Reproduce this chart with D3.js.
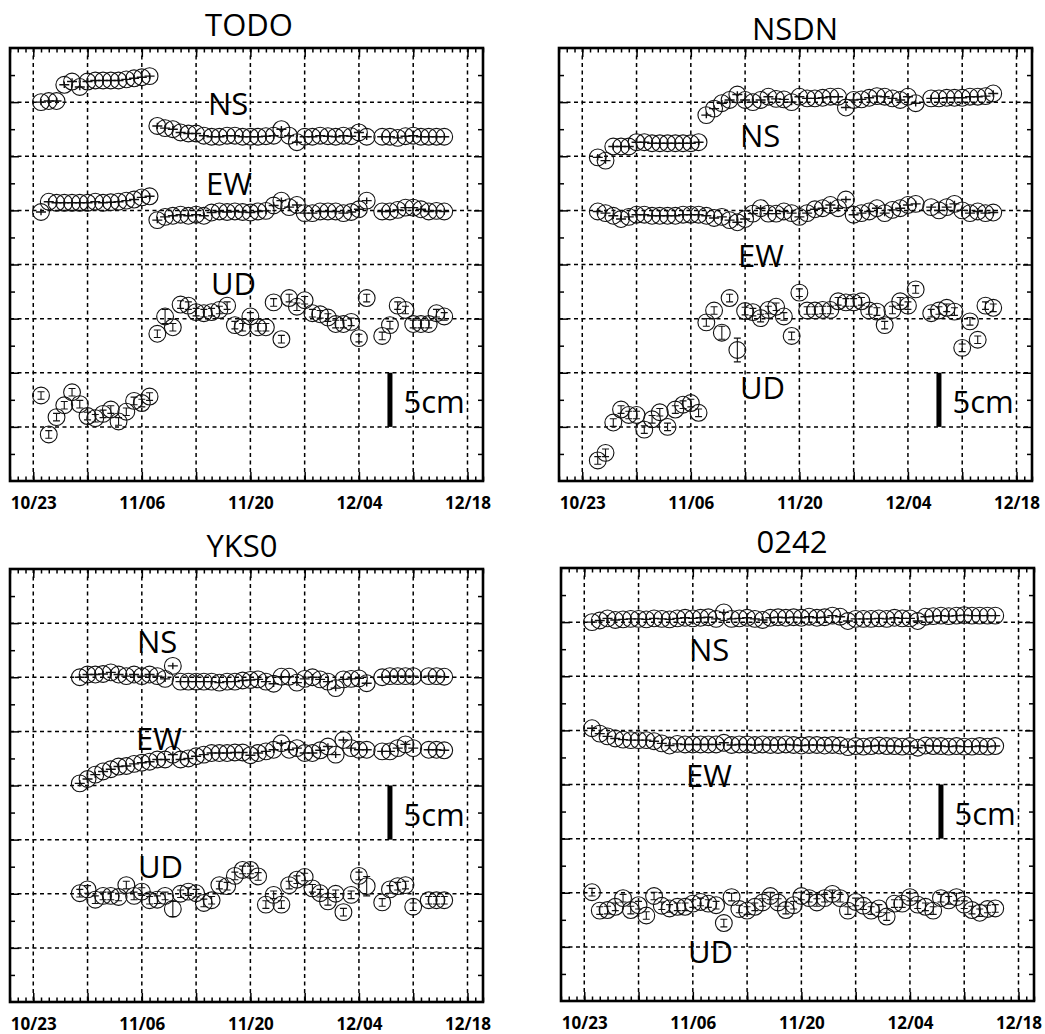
<!DOCTYPE html>
<html><head><meta charset="utf-8">
<script src="https://cdn.jsdelivr.net/npm/d3@7"></script>
<style>body{margin:0;background:#fff}svg{display:block}</style>
</head><body>
<svg id="chart" width="1045" height="1034"></svg>
<script>
// ---------- DATA ----------
const days = ["10/24","10/25","10/26","10/27","10/28","10/29","10/30","10/31",
"11/01","11/02","11/03","11/04","11/05","11/06","11/07","11/08","11/09","11/10",
"11/11","11/12","11/13","11/14","11/15","11/16","11/17","11/18","11/19","11/20",
"11/21","11/22","11/23","11/24","11/25","11/26","11/27","11/28","11/29","11/30",
"12/01","12/02","12/03","12/04","12/05","12/06","12/07","12/08","12/09","12/10",
"12/11","12/12","12/13","12/14","12/15"];
const xTickLabels = ["10/23","11/06","11/20","12/04","12/18"];
const stations = ["TODO","NSDN","YKS0","0242"];
const components = ["NS","EW","UD"];

const todoNS = [35.0,35.1,35.1,36.6,36.9,36.4,36.9,37.0,37.0,37.0,37.0,37.1,37.2,37.3,37.4,
 32.8,32.6,32.5,32.2,32.1,32.1,31.9,31.8,31.8,31.9,31.9,31.8,31.8,31.8,31.85,31.9,32.5,31.9,31.3,31.8,
 31.8,31.9,31.85,31.8,31.9,31.85,32.2,31.8,null,31.8,31.8,31.7,31.85,31.9,31.8,31.8,31.8,31.8];
const todoEW = [24.85,25.8,25.7,25.7,25.7,25.7,25.7,25.8,25.7,25.75,25.8,25.9,26.0,26.2,26.3,
 24.1,24.4,24.5,24.6,24.5,24.6,24.5,24.8,24.9,24.85,24.9,24.85,24.8,24.9,24.95,25.45,25.9,25.3,25.5,24.75,
 24.75,24.9,24.9,24.9,24.75,24.85,25.1,25.9,null,24.9,24.9,25.05,25.25,25.25,25.1,24.9,24.95,24.9];
const todoUD = [7.9,4.3,5.9,7.0,8.2,7.1,6.0,5.8,6.2,6.6,5.5,6.4,7.4,7.2,7.8,
 13.6,15.2,14.2,16.3,16.2,15.6,15.5,15.6,15.8,16.2,14.4,14.2,15.2,14.2,14.2,16.5,13.1,16.9,16.1,16.7,
 15.5,15.4,15.1,14.5,14.5,14.7,13.2,16.9,null,13.4,14.4,16.2,15.8,14.5,14.5,14.5,15.5,15.2];

const nsdnNS = [null,29.9,29.6,30.9,30.9,30.9,31.3,31.3,31.2,31.2,31.2,31.2,31.2,31.2,31.3,
 33.8,34.4,34.9,35.2,35.7,35.2,35.0,35.2,35.5,35.3,35.25,35.0,35.5,35.35,35.35,35.4,35.5,35.5,34.5,35.2,
 35.25,35.4,35.55,35.5,35.35,35.2,35.5,34.9,null,35.35,35.35,35.4,35.4,35.4,35.5,35.5,35.55,35.8];
const nsdnEW = [null,24.9,24.75,24.5,24.2,24.4,24.6,24.6,24.5,24.5,24.5,24.5,24.6,24.6,24.6,
 24.5,24.3,24.4,24.1,23.9,24.2,24.7,25.2,24.7,24.7,24.9,24.75,24.4,24.75,25.1,25.2,25.5,25.2,26.0,24.6,
 24.75,24.9,25.2,24.75,25.05,25.2,25.5,25.6,null,25.3,25.0,25.3,25.6,25.0,24.75,24.9,24.75,24.8];
const nsdnUD = [null,1.9,2.6,5.4,6.6,6.1,6.1,4.75,5.7,6.35,5.0,6.6,7.05,7.2,6.3,
 14.65,15.75,13.7,16.9,12.1,15.7,15.6,15.05,15.8,16.1,15.2,13.4,17.4,15.75,15.75,15.8,15.8,16.6,16.5,16.5,
 16.6,15.75,15.65,14.4,15.8,16.6,16.2,17.7,null,15.5,15.75,16.0,15.65,12.3,14.75,13.05,16.2,16.0];

const yksNS = [null,null,null,null,null,30.0,30.25,30.25,30.3,30.45,30.25,30.1,30.25,30.1,30.25,
 30.1,29.85,31.05,29.6,29.6,29.6,29.6,29.6,29.5,29.6,29.6,29.7,29.75,29.8,29.6,29.4,30.05,30.05,29.5,29.85,
 30.0,29.8,29.6,29.0,29.8,29.85,29.9,29.45,null,30.0,30.1,30.1,30.1,30.1,null,30.1,30.1,30.05];
const yksEW = [null,null,null,null,null,20.2,20.6,21.0,21.3,21.5,21.75,21.8,22.0,22.1,22.2,
 22.4,22.4,22.85,22.4,22.5,22.7,22.85,23.0,23.0,23.0,23.05,23.05,22.8,23.0,23.15,23.3,23.9,23.3,23.45,23.0,
 23.0,23.25,23.6,22.85,24.2,23.45,23.3,23.3,null,23.15,23.15,23.45,23.8,23.45,null,23.3,23.3,23.25];
const yksUD = [null,null,null,null,null,10.05,10.4,9.45,9.8,9.8,9.7,10.8,9.8,10.2,9.4,
 9.45,9.8,8.6,10.0,10.2,10.05,9.15,9.4,10.8,10.7,11.65,12.2,12.2,11.6,9.0,9.9,9.0,10.8,11.3,11.55,
 10.5,10.05,9.3,10.0,8.3,9.9,11.65,10.7,null,9.2,10.4,10.7,10.8,8.8,null,9.4,9.4,9.4];

const ns0242 = [35.0,35.15,35.35,35.2,35.25,35.3,35.3,35.25,35.35,35.3,35.25,35.35,35.4,35.35,35.4,
 35.45,35.3,35.9,35.3,35.35,35.4,35.3,35.2,35.4,35.45,35.4,35.45,35.4,35.5,35.4,35.45,35.6,35.5,35.1,35.3,
 35.3,35.3,35.35,35.3,35.4,35.35,35.35,35.1,35.5,35.55,35.6,35.55,35.6,35.65,35.6,35.6,35.6,35.6];
const ew0242 = [25.2,24.7,24.45,24.25,24.15,24.1,24.1,24.1,24.0,23.8,23.6,23.75,23.7,23.7,23.7,
 23.7,23.7,23.85,23.65,23.7,23.7,23.65,23.7,23.65,23.65,23.7,23.65,23.6,23.65,23.65,23.6,23.65,23.6,23.45,23.55,
 23.5,23.55,23.6,23.55,23.55,23.5,23.55,23.4,23.6,23.55,23.55,23.5,23.55,23.5,23.5,23.55,23.5,23.55];
const ud0242 = [10.05,8.35,8.4,8.7,9.5,8.4,8.85,7.9,9.7,8.8,8.55,8.7,8.7,9.0,9.15,
 9.0,8.85,7.2,9.6,8.5,8.35,8.7,9.1,9.7,9.1,8.4,8.85,9.7,9.5,9.1,9.5,9.9,9.5,8.35,9.15,
 8.8,8.35,8.55,7.8,9.0,9.0,9.6,8.9,8.7,8.35,9.5,9.3,9.6,8.9,8.4,8.15,8.5,8.55];

// error bar half-lengths (cm)
const errNSEW = 0.3, errUD = 0.35;
const todoUDErr = {16:0.65};
const nsdnUDErr = {17:0.6, 19:1.1};
const yksUDErr = {17:0.7, 42:0.9};
const udErr0242 = {};

// ---------- LAYOUT ----------
const W = 473, H = 433;
const panels = [
 {name:stations[0], series:[todoNS,todoEW,todoUD], udErr:todoUDErr, left:10, top:48,
  title:[239,-12], labels:[[198,67],[196,147],[201,247]], bar:[5,10]},
 {name:stations[1], series:[nsdnNS,nsdnEW,nsdnUD], udErr:nsdnUDErr, left:559, top:48,
  title:[236,-8], labels:[[181,99],[179,219],[181,351]], bar:[5,10]},
 {name:stations[2], series:[yksNS,yksEW,yksUD], udErr:yksUDErr, left:10, top:569,
  title:[232,-12], labels:[[127,84],[126,181],[128,309]], bar:[15,20]},
 {name:stations[3], series:[ns0242,ew0242,ud0242], udErr:udErr0242, left:561, top:568,
  title:[231,-15], labels:[[128,93],[125,219],[127,395]], bar:[15,20]}
];

const parse = s => { const [m,d] = s.split("/").map(Number); return new Date(Date.UTC(2004, m-1, d)); };
const x0 = new Date(Date.UTC(2004,9,20)), x1 = new Date(Date.UTC(2004,11,20));
const weekDates = d3.range(0, 57, 7).map(k => d3.utcDay.offset(parse(xTickLabels[0]), k));
const dayDates = d3.utcDay.range(x0, d3.utcDay.offset(x1, 1));
const FONT = "'Open Sans', 'Noto Sans', sans-serif";
const INK = "#111";

const svg = d3.select("#chart");

panels.forEach(p => {
  const g = svg.append("g").attr("transform", `translate(${p.left},${p.top})`);
  const x = d3.scaleUtc().domain([x0, x1]).range([0, W]);
  const y = d3.scaleLinear().domain([0, 40]).range([H, 0]);
  const k = H / 40;

  // grid
  const grid = g.append("g").attr("stroke", "#000").attr("stroke-width", 1.5)
    .attr("stroke-dasharray", "4,3.5").attr("fill", "none");
  grid.selectAll(".vg").data(weekDates).join("line")
    .attr("x1", d => x(d)).attr("x2", d => x(d)).attr("y1", 0).attr("y2", H);
  grid.selectAll(".hg").data(d3.range(5, 40, 5)).join("line").attr("class","hg")
    .attr("x1", 0).attr("x2", W).attr("y1", d => y(d)).attr("y2", d => y(d));

  // series
  p.series.forEach((arr, ci) => {
    const comp = components[ci];
    const data = days.map((d, i) => ({date: parse(d), v: arr[i], i})).filter(d => d.v != null);
    const pts = g.append("g").selectAll("g").data(data).join("g")
      .attr("transform", d => `translate(${x(d.date)},${y(d.v)})`)
      .attr("stroke", INK).attr("fill", "none");
    pts.append("circle").attr("r", 8.4).attr("stroke-width", 1.1);
    if (comp === "UD") {
      const e = d => ((p.udErr[d.i] != null ? p.udErr[d.i] : errUD) * k);
      pts.append("path").attr("stroke-width", 1.1)
        .attr("d", d => `M0,${-e(d)}V${e(d)}M-3.5,${-e(d)}H3.5M-3.5,${e(d)}H3.5`);
    } else {
      const e = errNSEW * k;
      pts.append("path").attr("stroke-width", 1.4)
        .attr("d", `M-5,0H5M0,${-e}V${e}`);
    }
  });

  // component labels
  components.forEach((c, ci) => {
    g.append("text").attr("x", p.labels[ci][0]).attr("y", p.labels[ci][1])
      .attr("font-family", FONT).attr("font-size", 31).attr("fill", "#000").text(c);
  });

  // scale bar
  const bx = x(parse("12/08"));
  g.append("rect").attr("x", bx - 2.5).attr("width", 5)
    .attr("y", y(p.bar[1])).attr("height", y(p.bar[0]) - y(p.bar[1])).attr("fill", "#000");
  g.append("text").attr("x", bx + 13.5).attr("y", y((p.bar[0] + p.bar[1]) / 2) + 13)
    .attr("font-family", FONT).attr("font-size", 31).attr("fill", "#000").text((p.bar[1]-p.bar[0]) + "cm");

  // ticks via axes
  const styleAxis = s => { s.select(".domain").remove(); s.selectAll("line").attr("stroke", "#000").attr("stroke-width", 1.5); };
  g.append("g").attr("transform", `translate(0,${H})`).call(d3.axisBottom(x).tickValues(dayDates).tickSize(-4.5).tickFormat("")).call(styleAxis);
  g.append("g").attr("transform", `translate(0,${H})`).call(d3.axisBottom(x).tickValues(weekDates).tickSize(-9).tickFormat("")).call(styleAxis);
  g.append("g").call(d3.axisTop(x).tickValues(dayDates).tickSize(-4.5).tickFormat("")).call(styleAxis);
  g.append("g").call(d3.axisTop(x).tickValues(weekDates).tickSize(-9).tickFormat("")).call(styleAxis);
  const minorY = d3.range(2.5, 40, 5), majorY = d3.range(5, 40, 5);
  g.append("g").call(d3.axisLeft(y).tickValues(minorY).tickSize(-5).tickFormat("")).call(styleAxis);
  g.append("g").call(d3.axisLeft(y).tickValues(majorY).tickSize(-9).tickFormat("")).call(styleAxis);
  g.append("g").attr("transform", `translate(${W},0)`).call(d3.axisRight(y).tickValues(minorY).tickSize(-5).tickFormat("")).call(styleAxis);
  g.append("g").attr("transform", `translate(${W},0)`).call(d3.axisRight(y).tickValues(majorY).tickSize(-9).tickFormat("")).call(styleAxis);

  // x tick labels
  const lab = g.append("g").attr("transform", `translate(0,${H})`)
    .call(d3.axisBottom(x).tickValues(xTickLabels.map(parse)).tickSize(0).tickPadding(16)
      .tickFormat((d, i) => xTickLabels[i]));
  lab.select(".domain").remove();
  lab.attr("font-family", FONT).attr("font-size", 17).attr("font-weight", 700);
  lab.selectAll("text").attr("fill", "#000");

  // frame
  g.append("rect").attr("width", W).attr("height", H).attr("fill", "none")
    .attr("stroke", "#000").attr("stroke-width", 2.6);

  // title
  g.append("text").attr("x", p.title[0]).attr("y", p.title[1]).attr("text-anchor", "middle")
    .attr("font-family", FONT).attr("font-size", 31).attr("fill", "#000").text(p.name);
});
</script>
</body></html>
